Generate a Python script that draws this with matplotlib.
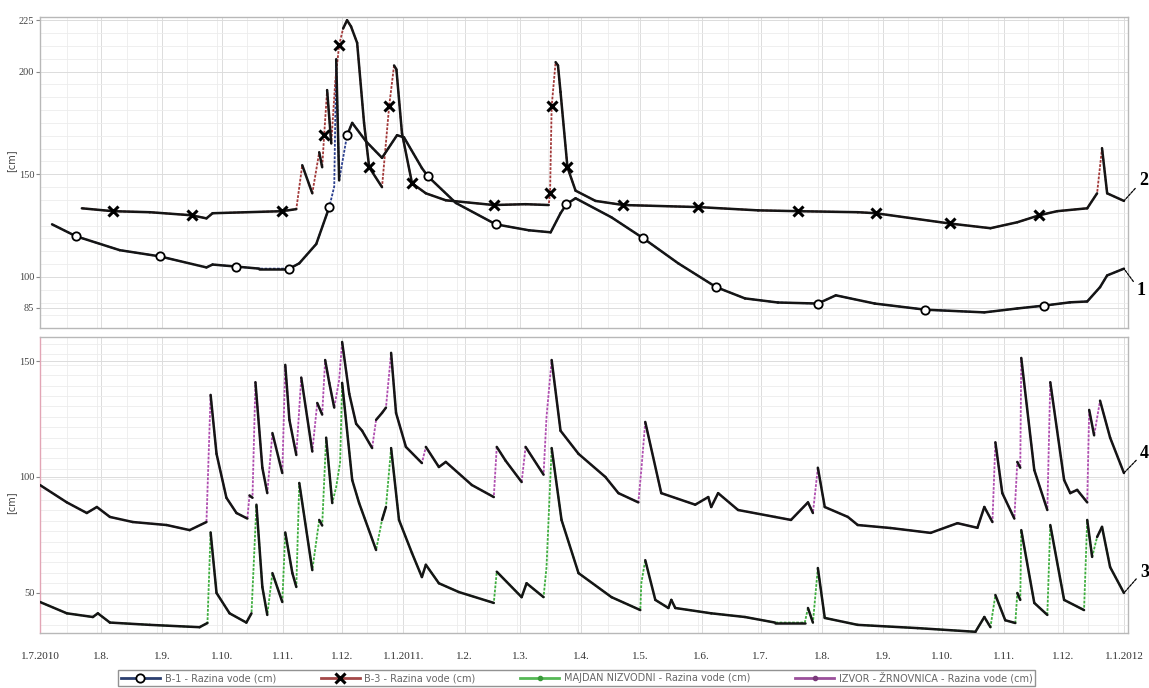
import numpy as np
import pandas as pd
import matplotlib
matplotlib.use("Agg")
import matplotlib.pyplot as plt
import matplotlib.dates as mdates
from matplotlib.collections import LineCollection
from matplotlib.lines import Line2D
from matplotlib.ticker import MultipleLocator

# --- data: days since 1.7.2010, water level in cm ---
start = pd.Timestamp("2010-07-01")

b1_days = [6.1, 18.2, 40.4, 60.6, 84.3, 87.4, 99.5, 111.1, 126.3, 131.3, 139.9, 146.5, 149.0, 150.0,
           151.5, 155.5, 158.1, 165.1, 173.2, 180.8, 184.3, 193.4, 196.4, 210.6, 230.8, 247.5, 258.6,
           263.6, 266.6, 271.2, 289.4, 305.5, 323.2, 342.4, 357.0, 373.7, 393.9, 403.0, 422.7, 448.4,
           478.2, 494.9, 508.5, 521.7, 530.3, 536.8, 540.4, 548.9]
b1_vals = [125.6, 119.8, 113, 110, 104.6, 106, 105, 104, 104, 106.6, 116, 134, 144, 206,
           147, 169, 175, 166, 158, 169, 168, 153, 149, 136, 125.6, 122.7, 121.7,
           131, 135.4, 138.3, 129, 118.8, 106.6, 95, 89.5, 87.5, 87, 91, 87, 84,
           82.7, 84.6, 86, 87.6, 88, 95, 100.7, 104]
b1_marked = [18.2, 60.6, 99.5, 126.3, 146.5, 155.5, 196.4, 230.8, 266.6, 305.5, 342.4, 393.9, 448.4, 508.5]

b3_days = [21.2, 36.9, 55.6, 76.8, 84.3, 87.4, 122.7, 129.8, 132.8, 137.9, 141.4, 142.9, 143.9, 145.4,
           147.5, 149.5, 151.5, 153.5, 155.5, 157.5, 160.6, 164.1, 166.7, 173.2, 176.8, 179.3, 180.5,
           183.3, 188.4, 195.4, 205.5, 229.8, 245.9, 257.6, 258.3, 259.1, 261.1, 262.3, 263.6, 267.1,
           271.2, 281.3, 295.4, 333.3, 363.6, 383.8, 414.1, 423.2, 460.6, 481.3, 494.9, 506.0, 515.1,
           530.3, 535.3, 537.8, 540.4, 548.9]
b3_vals = [133.4, 132, 131.5, 130, 128.5, 131, 132, 133, 154.4, 140.7, 160.7, 153.4, 169, 191,
           165, 195, 213, 221, 225, 222, 214, 175, 153.4, 143.7, 183, 203, 201,
           170, 145.6, 140.7, 137.3, 135, 135.4, 135, 141, 183, 204.6, 203, 190, 153.4,
           142, 137, 135, 134, 132.4, 132, 131.5, 131, 126, 123.7, 126.6, 130, 132,
           133.4, 140.7, 162.7, 140.7, 137]
b3_marked = [36.9, 76.8, 122.7, 143.9, 151.5, 166.7, 176.8, 188.4, 229.8, 258.3, 259.1, 267.1, 295.4,
             333.3, 383.8, 423.2, 460.6, 506.0]

izvor_days = [0.0, 13.6, 23.7, 28.8, 35.4, 47.0, 64.1, 75.8, 84.3, 86.4, 89.4, 94.4, 99.5, 105.0, 106.1,
              107.6, 109.1, 112.6, 115.1, 117.7, 122.7, 124.2, 126.3, 129.8, 132.3, 137.9, 140.4, 142.9,
              144.4, 146.5, 149.0, 151.5, 153.0, 156.6, 160.1, 163.1, 168.2, 170.2, 173.2, 175.2, 177.8,
              180.3, 185.3, 193.4, 195.4, 202.0, 205.5, 218.7, 229.8, 231.3, 235.8, 243.9, 245.9, 255.0,
              256.5, 259.1, 263.6, 272.7, 286.3, 292.9, 303.0, 304.5, 306.5, 314.6, 331.8, 338.4, 339.9,
              343.4, 353.5, 372.2, 380.3, 388.9, 391.4, 393.9, 397.4, 409.1, 414.1, 430.8, 451.0, 464.6,
              474.7, 478.2, 482.3, 483.8, 487.3, 493.4, 494.9, 496.4, 496.9, 503.5, 510.1, 511.6, 518.6,
              521.7, 525.2, 530.3, 531.3, 533.8, 536.8, 541.9, 548.9]
izvor_vals = [96.5, 89, 84.4, 87, 82.7, 80.5, 79.2, 77, 80.5, 135.5, 110, 91, 84.4, 82, 92,
              91, 141, 104, 93, 119, 101.7, 148.5, 124.7, 109.5, 143, 111, 132, 127,
              150.6, 140.7, 130, 142, 158.4, 136, 123, 120, 112.5, 124.7, 127.7, 130, 153.7,
              127.7, 113, 106, 113, 104.3, 106.5, 96.5, 91.3, 113, 107, 97.8, 113, 101,
              126, 150.6, 120, 110, 100, 93, 89, 103, 123.8, 93, 88, 91.3, 87,
              93, 85.7, 82.7, 81.4, 89, 84.4, 104, 87, 82.7, 79.2, 77.9, 75.8, 80,
              78, 87, 80.5, 115, 93, 82, 106.5, 104, 151.5, 103, 85.7, 141, 98.7,
              93, 94.4, 89, 129, 118, 133, 117, 101.7]

majdan_days = [0.0, 13.6, 26.8, 29.3, 35.4, 55.6, 80.8, 84.8, 86.4, 89.4, 96.0, 104.5, 107.1, 109.6,
               112.6, 115.1, 117.7, 122.7, 124.2, 127.8, 129.8, 131.3, 137.9, 141.4, 142.9, 144.9,
               148.0, 150.0, 152.0, 153.0, 158.1, 161.6, 170.2, 173.2, 175.2, 177.8, 181.8, 188.4,
               193.4, 195.4, 202.0, 212.1, 229.8, 231.3, 243.9, 246.4, 255.0, 256.5, 259.1, 264.1,
               272.7, 289.4, 304.0, 304.5, 306.5, 311.6, 318.2, 319.7, 321.7, 339.9, 357.0, 372.2,
               387.3, 388.9, 391.4, 393.9, 397.4, 414.1, 444.4, 473.7, 478.2, 481.3, 483.8, 488.8,
               493.9, 494.9, 496.4, 496.9, 503.5, 510.1, 511.6, 518.6, 528.7, 530.3, 532.8, 535.3,
               537.8, 541.9, 548.9]
majdan_vals = [45.9, 41, 39.4, 41, 37, 36, 35, 36.8, 76, 49.8, 41, 37, 41, 88,
               52.4, 40.3, 58.4, 45.9, 76, 58.4, 52.4, 97.4, 59.7, 81.4, 79, 117,
               88.7, 95.7, 106.5, 140.7, 98.7, 88.7, 68.4, 81.4, 87, 112.5, 81.4, 67,
               56.7, 62, 54, 50.2, 45.5, 59, 48, 54, 48, 61, 112.5, 81.4,
               58.4, 48, 42.4, 54, 64, 46.8, 43.3, 46.8, 43.3, 41, 39.4, 37,
               37, 43.3, 37, 60.6, 39, 36, 34.6, 33, 39.4, 35, 48.9, 38,
               36.8, 49.8, 46.8, 77, 45.5, 40.3, 79.2, 46.8, 42.4, 81.4, 65.4, 74,
               78.4, 61, 49.8]

month_labels = ["1.7.2010", "1.8.", "1.9.", "1.10.", "1.11.", "1.12.", "1.1.2011.", "1.2.", "1.3.",
                "1.4.", "1.5.", "1.6.", "1.7.", "1.8.", "1.9.", "1.10.", "1.11.", "1.12.", "1.1.2012"]

legend_labels = ["B-1 - Razina vode (cm)", "B-3 - Razina vode (cm)",
                 "MAJDAN NIZVODNI - Razina vode (cm)", "IZVOR - ŽRNOVNICA - Razina vode (cm)"]


def to_num(days):
    return mdates.date2num(start + pd.to_timedelta(np.asarray(days), unit="D"))


def draw_series(ax, days, vals, color, rise=3.0):
    # coloured line, with the falling / flat parts traced over in black
    x = to_num(days)
    y = np.asarray(vals, dtype=float)
    ax.plot(x, y, color=color, lw=1.3, ls=(0, (1.5, 0.8)), zorder=2)
    pts = np.column_stack([x, y])
    segs = np.stack([pts[:-1], pts[1:]], axis=1)
    slope = np.diff(y) / np.diff(x)
    lc = LineCollection(segs[slope <= rise], colors="#151515", linewidths=1.8,
                        capstyle="round", joinstyle="round", zorder=3)
    ax.add_collection(lc)
    return x, y


plt.rcParams["font.family"] = ["Liberation Serif", "DejaVu Serif"]

fig = plt.figure(figsize=(11.49, 6.88), dpi=100)
ax1 = fig.add_axes([0.0348, 0.523, 0.947, 0.452])
ax2 = fig.add_axes([0.0348, 0.080, 0.947, 0.430])

# top panel: piezometers
x1, y1 = draw_series(ax1, b1_days, b1_vals, "#2b3f8f")
m1 = np.isin(b1_days, b1_marked)
ax1.plot(x1[m1], y1[m1], ls="none", marker="o", ms=6, mfc="white", mec="black", mew=1.3, zorder=4)

x2, y2 = draw_series(ax1, b3_days, b3_vals, "#a33a3a")
m2 = np.isin(b3_days, b3_marked)
ax1.plot(x2[m2], y2[m2], ls="none", marker="x", ms=7, mec="black", mew=2.2, zorder=4)

# bottom panel: spring and downstream gauge
x4, y4 = draw_series(ax2, izvor_days, izvor_vals, "#b04fb0")
x3, y3 = draw_series(ax2, majdan_days, majdan_vals, "#3fae3f")

xmin = mdates.date2num(pd.Timestamp("2010-07-01"))
xmax = mdates.date2num(pd.Timestamp("2012-01-03"))
month_ticks = mdates.date2num(pd.date_range("2010-07-01", "2012-01-01", freq="MS"))

for ax in (ax1, ax2):
    ax.set_xlim(xmin, xmax)
    ax.set_xticks(month_ticks)
    ax.xaxis.set_minor_locator(MultipleLocator(15.2))
    ax.grid(True, which="major", color="#dcdcdc", lw=0.7)
    ax.grid(True, which="minor", color="#ececec", lw=0.6)
    ax.set_axisbelow(True)
    ax.tick_params(axis="x", length=0, which="both")
    ax.tick_params(axis="y", length=3, width=0.8, color="#888888", labelsize=7.5,
                   labelcolor="#444444", pad=1)
    ax.tick_params(axis="y", which="minor", length=0)
    for s in ax.spines.values():
        s.set_color("#b8b8b8")
        s.set_linewidth(1.0)
    ax.set_ylabel("[cm]", fontsize=7, color="#444444", labelpad=2,
                  family=["DejaVu Sans"])

ax1.set_ylim(75, 226.5)
ax1.set_yticks([85, 100, 150, 200, 225])
ax1.yaxis.set_minor_locator(MultipleLocator(6.25))
ax1.set_xticklabels([])
ax1.yaxis.set_label_coords(-0.022, 0.54)

ax2.set_ylim(32.5, 160.5)
ax2.set_yticks([50, 100, 150])
ax2.yaxis.set_minor_locator(MultipleLocator(4.5))
ax2.set_xticklabels(month_labels, fontsize=8, color="#333333")
ax2.tick_params(axis="x", pad=14)
ax2.spines["left"].set_color("#e2a5b5")
ax2.yaxis.set_label_coords(-0.022, 0.44)

# curve numbers on the right, with short leader lines
for ax, x, y, lab, off, rel in [(ax1, x2, y2, "2", (15, 20), (0.0, 0.3)),
                                (ax1, x1, y1, "1", (13, -22), (0.0, 0.75)),
                                (ax2, x4, y4, "4", (16, 20), (0.0, 0.3)),
                                (ax2, x3, y3, "3", (16, 20), (0.0, 0.4))]:
    ax.annotate(lab, xy=(x[-1], y[-1]), xytext=off, textcoords="offset pixels",
                fontsize=13, fontweight="bold", ha="left", va="center",
                annotation_clip=False,
                arrowprops=dict(arrowstyle="-", color="black", lw=0.9, ls=(0, (2, 1)),
                                relpos=rel, shrinkA=1, shrinkB=0))

handles = [
    Line2D([], [], color="#2b3f6f", lw=2, marker="o", ms=6, mfc="white", mec="black", mew=1.3),
    Line2D([], [], color="#a34848", lw=2, marker="x", ms=7, mec="black", mew=2.2),
    Line2D([], [], color="#55b855", lw=2, marker="o", ms=3, mfc="#3a9a3a", mec="#3a9a3a"),
    Line2D([], [], color="#9b4f9b", lw=2, marker="o", ms=3, mfc="#7a3a7a", mec="#7a3a7a"),
]
leg = fig.legend(handles, legend_labels, loc="lower center", bbox_to_anchor=(0.502, -0.004),
                 ncol=4, frameon=True, fancybox=False, edgecolor="#777777",
                 handlelength=4.0, columnspacing=4.6, borderpad=0.25, handletextpad=0.5,
                 prop={"family": "DejaVu Sans", "size": 7})
for t in leg.get_texts():
    t.set_color("#666666")

fig.savefig("out.png", dpi=100)
